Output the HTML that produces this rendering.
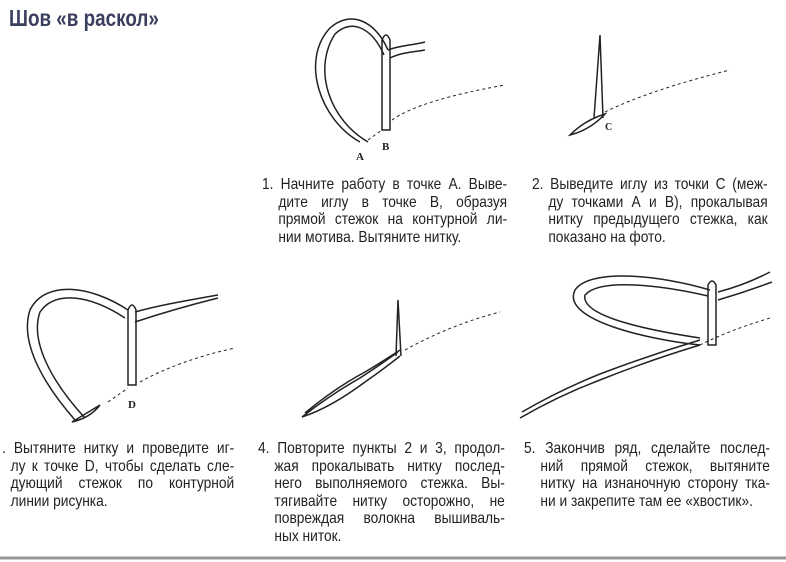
<!DOCTYPE html>
<html><head><meta charset="utf-8"><style>
body{margin:0;width:786px;height:562px;background:#fff;position:relative;overflow:hidden;font-family:"Liberation Sans",sans-serif;}
.t{position:absolute;font-size:16px;line-height:17.6px;color:#222;transform:scaleX(0.86);transform-origin:0 0;}
.t div{text-align:justify;text-align-last:justify;white-space:nowrap;padding-left:19px;}
.t div.f{padding-left:0}
.t div.l{text-align-last:left;}
h1{position:absolute;left:9px;top:5px;margin:0;font-size:23px;color:#3b3f5e;font-weight:bold;transform:scaleX(0.82);transform-origin:0 0;white-space:nowrap;}
svg{position:absolute;left:0;top:0}
</style></head><body>
<h1>Шов «в раскол»</h1>
<svg width="786" height="562" fill="none" stroke="#222" stroke-width="1.5">
<!-- fig1 -->
<path d="M360 142 C320 120 300 60 330 28 C350 10 375 20 388 50 M368 142 C330 120 312 70 335 34 C352 18 372 28 384 55" />
<path d="M388 50 C400 45 415 45 425 42 M390 58 C402 52 415 52 425 50"/>
<path d="M382 130 L382 40 Q386 30 390 40 L390 130 Z"/>
<path d="M368 140 L382 130 M392 120 Q420 100 505 85" stroke-dasharray="3 3" stroke-width="1"/>
<text x="356" y="160" font-family="Liberation Serif" font-size="11" font-weight="bold" fill="#222" stroke="none">A</text>
<text x="382" y="150" font-family="Liberation Serif" font-size="11" font-weight="bold" fill="#222" stroke="none">B</text>
<!-- fig2 -->
<path d="M570 135 Q585 120 605 114 Q590 130 570 135Z M594 118 L600 35 L603 118"/>
<path d="M605 112 Q650 90 730 70" stroke-dasharray="3 3" stroke-width="1"/>
<text x="605" y="130" font-family="Liberation Serif" font-size="10" font-weight="bold" fill="#222" stroke="none">C</text>
<!-- fig3 -->
<path d="M75 420 C40 380 20 340 30 310 C45 280 90 285 128 310 M85 418 C50 380 30 340 40 312 C55 290 90 295 125 318"/>
<path d="M72 422 L100 405 Q90 418 72 422Z"/>
<path d="M135 312 C160 305 190 300 218 295 M135 322 C165 312 190 305 218 298"/>
<path d="M128 385 L128 310 Q132 300 136 310 L136 385Z"/>
<path d="M108 402 L128 388 M140 382 Q180 360 235 348" stroke-dasharray="3 3" stroke-width="1"/>
<text x="128" y="408" font-family="Liberation Serif" font-size="11" font-weight="bold" fill="#222" stroke="none">D</text>
<!-- fig4 -->
<path d="M302 417 Q330 395 360 378 Q380 365 398 352 M305 413 Q335 388 365 372 Q385 360 400 350 M302 417 Q330 408 365 382 Q385 368 400 356"/>
<path d="M396 356 L398 300 L401 356"/>
<path d="M405 350 Q450 325 500 312" stroke-dasharray="3 3" stroke-width="1"/>
<!-- fig5 -->
<path d="M520 418 Q560 395 600 380 Q650 360 700 345 M522 412 Q560 390 600 374 Q650 355 700 340"/>
<path d="M700 345 C650 340 560 320 575 290 C590 268 660 275 710 290 M700 338 C660 332 580 318 585 295 C600 278 660 285 708 296"/>
<path d="M708 345 L708 285 Q712 277 716 285 L716 345Z"/>
<path d="M718 292 Q745 285 770 272 M718 300 Q745 292 772 282"/>
<path d="M700 345 Q730 330 770 318" stroke-dasharray="3 3" stroke-width="1"/>
<line x1="0" y1="558" x2="786" y2="558" stroke="#999" stroke-width="3"/>
</svg>
<div class="t" style="left:262px;top:176px;width:285px">
<div class="f">1. Начните работу в точке А. Выве-</div>
<div>дите иглу в точке В, образуя</div>
<div>прямой стежок на контурной ли-</div>
<div class="l">нии мотива. Вытяните нитку.</div>
</div>
<div class="t" style="left:532px;top:176px;width:274px">
<div class="f">2. Выведите иглу из точки С (меж-</div>
<div>ду точками А и В), прокалывая</div>
<div>нитку предыдущего стежка, как</div>
<div class="l">показано на фото.</div>
</div>
<div class="t" style="left:2px;top:440px;width:270px">
<div class="f">. Вытяните нитку и проведите иг-</div>
<div style="padding-left:10px">лу к точке D, чтобы сделать сле-</div>
<div style="padding-left:10px">дующий стежок по контурной</div>
<div class="l" style="padding-left:10px">линии рисунка.</div>
</div>
<div class="t" style="left:258px;top:440px;width:287px">
<div class="f">4. Повторите пункты 2 и 3, продол-</div>
<div>жая прокалывать нитку послед-</div>
<div>него выполняемого стежка. Вы-</div>
<div>тягивайте нитку осторожно, не</div>
<div>повреждая волокна вышиваль-</div>
<div class="l">ных ниток.</div>
</div>
<div class="t" style="left:524px;top:440px;width:286px">
<div class="f">5. Закончив ряд, сделайте послед-</div>
<div>ний прямой стежок, вытяните</div>
<div>нитку на изнаночную сторону тка-</div>
<div class="l">ни и закрепите там ее «хвостик».</div>
</div>
</body></html>
